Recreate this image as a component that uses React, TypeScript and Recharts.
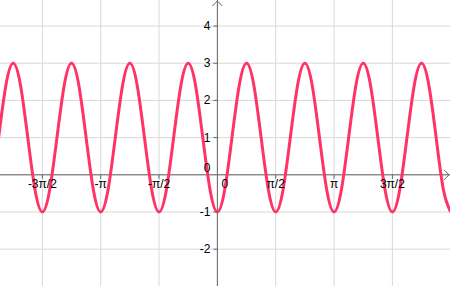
import { LineChart, Line, XAxis, YAxis, ReferenceLine, ReferenceDot } from "recharts";

// x positions, counted in steps of π/16
const xSteps = [
  -30, -29, -28, -27, -26, -25, -24, -23, -22, -21, -20, -19, -18, -17, -16, -15,
  -14, -13, -12, -11, -10, -9, -8, -7, -6, -5, -4, -3, -2, -1, 0, 1,
  2, 3, 4, 5, 6, 7, 8, 9, 10, 11, 12, 13, 14, 15, 16, 17,
  18, 19, 20, 21, 22, 23, 24, 25, 26, 27, 28, 29, 30, 31, 32,
];

// curve height read at each of those positions
const yValues = [
  1, 2.41, 3, 2.41, 1, -0.41, -1, -0.41, 1, 2.41, 3, 2.41, 1, -0.41, -1, -0.41,
  1, 2.41, 3, 2.41, 1, -0.41, -1, -0.41, 1, 2.41, 3, 2.41, 1, -0.41, -1, -0.41,
  1, 2.41, 3, 2.41, 1, -0.41, -1, -0.41, 1, 2.41, 3, 2.41, 1, -0.41, -1, -0.41,
  1, 2.41, 3, 2.41, 1, -0.41, -1, -0.41, 1, 2.41, 3, 2.41, 1, -0.41, -1,
];

const xTickSteps = [-24, -16, -8, 0, 8, 16, 24];
const xTickLabels = ["-3π/2", "-π", "-π/2", "0", "π/2", "π", "3π/2"];
const yTicks = [-2, -1, 0, 1, 2, 3, 4];
const yTickLabels = ["-2", "-1", "0", "1", "2", "3", "4"];

const xDomain = [-29.81, 31.9];
const yDomain = [-2.99, 4.7];

const data = xSteps.map((x, i) => ({ x, y: yValues[i] }));

const AXIS = "#666666";
const GRID = "#d9d9d9";
const CURVE = "#ff3366";
const FONT = '"Liberation Sans", Arial, sans-serif';

function XLabel({ cx, cy, label }: any) {
  const zero = label === "0";
  return (
    <g>
      {!zero && <line x1={cx} y1={cy} x2={cx} y2={cy + 4} stroke={AXIS} />}
      <text
        x={zero ? cx + 4 : cx}
        y={cy + 13}
        textAnchor={zero ? "start" : "middle"}
        fontFamily={FONT}
        fontSize={12}
        fill="#000"
      >
        {label}
      </text>
    </g>
  );
}

function YLabel({ cx, cy, label }: any) {
  const zero = label === "0";
  return (
    <g>
      {!zero && <line x1={cx - 4} y1={cy} x2={cx} y2={cy} stroke={AXIS} />}
      <text
        x={cx - 7}
        y={zero ? cy - 3 : cy + 4}
        textAnchor="end"
        fontFamily={FONT}
        fontSize={12}
        fill="#000"
      >
        {label}
      </text>
    </g>
  );
}

export default function App() {
  return (
    <div style={{ position: "absolute", left: 0, top: 0, background: "#fff" }}>
      <LineChart width={450} height={286} data={data} margin={{ top: 0, right: 0, bottom: 0, left: 0 }}>
        <XAxis dataKey="x" type="number" domain={xDomain} allowDataOverflow hide />
        <YAxis type="number" domain={yDomain} allowDataOverflow hide />

        {xTickSteps.map((t) => (
          <ReferenceLine key={"gx" + t} x={t} stroke={GRID} />
        ))}
        {yTicks.map((t) => (
          <ReferenceLine key={"gy" + t} y={t} stroke={GRID} />
        ))}

        <ReferenceLine y={0} stroke={AXIS} />
        <ReferenceLine x={0} stroke={AXIS} />

        <ReferenceDot
          x={0}
          y={yDomain[1]}
          r={1}
          ifOverflow="visible"
          shape={(p: any) => (
            <polyline
              points={`${p.cx - 5},${p.cy + 6} ${p.cx},${p.cy + 1} ${p.cx + 5},${p.cy + 6}`}
              fill="none"
              stroke={AXIS}
            />
          )}
        />
        <ReferenceDot
          x={xDomain[1]}
          y={0}
          r={1}
          ifOverflow="visible"
          shape={(p: any) => (
            <polyline
              points={`${p.cx - 6},${p.cy - 5} ${p.cx - 1},${p.cy} ${p.cx - 6},${p.cy + 5}`}
              fill="none"
              stroke={AXIS}
            />
          )}
        />

        {xTickSteps.map((t, i) => (
          <ReferenceDot
            key={"lx" + t}
            x={t}
            y={0}
            r={1}
            shape={(p: any) => <XLabel cx={p.cx} cy={p.cy} label={xTickLabels[i]} />}
          />
        ))}
        {yTicks.map((t, i) => (
          <ReferenceDot
            key={"ly" + t}
            x={0}
            y={t}
            r={1}
            shape={(p: any) => <YLabel cx={p.cx} cy={p.cy} label={yTickLabels[i]} />}
          />
        ))}

        <Line
          type="natural"
          dataKey="y"
          stroke={CURVE}
          strokeWidth={3}
          dot={false}
          isAnimationActive={false}
        />
      </LineChart>
    </div>
  );
}
